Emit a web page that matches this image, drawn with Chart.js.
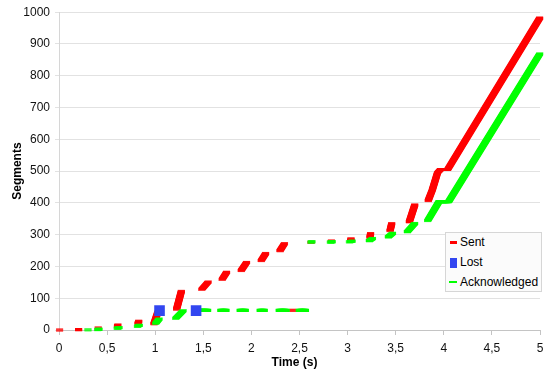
<!DOCTYPE html>
<html><head><meta charset="utf-8">
<script src="https://cdn.jsdelivr.net/npm/chart.js@4.4.1/dist/chart.umd.min.js"></script>
<style>
html,body{margin:0;padding:0;background:#fff;}
#wrap{position:relative;width:550px;height:379px;}
#legend{position:absolute;left:445px;top:232px;width:95px;height:58px;border:1px solid #d6d6d6;background:#fbfbfb;font:12px "Liberation Sans",Arial,sans-serif;color:#000;}
.item{position:absolute;left:0;height:20px;line-height:20px;white-space:nowrap;}
.mk{position:absolute;left:4px;}
.lbl{position:absolute;left:14px;top:0;}
</style></head>
<body><div id="wrap"><canvas id="c" width="550" height="379"></canvas><div id="legend"></div></div>
<script>
const seriesNames = ['Sent', 'Lost', 'Acknowledged'];
const seriesColors = ['#ff0000', '#3246f0', '#00ff00'];

// one pair of points per burst; null marks the pause between bursts
const sentTime = [0, 0.012, null, 0.198, 0.204, null, 0.405, 0.41, null, 0.605, 0.615, null,
  0.818, 0.832, null, 0.985, 1.03, null, 1.221, 1.273, null, 1.481, 1.554, null,
  1.693, 1.745, null, 1.891, 1.953, null, 2.099, 2.151, null, 2.294, 2.346, null,
  2.425, 2.437, null, 2.615, 2.625, null, 2.825, 2.835, null, 3.025, 3.035, null,
  3.232, 3.24, null, 3.44, 3.46, null, 3.64, 3.70, null,
  3.836, 3.88, 3.935, 3.965, 4.04, 5.0];
const sentSegments = [0, 0, null, 1, 3, null, 5, 8, null, 11, 17, null,
  20, 29, null, 18, 58, null, 64, 123, null, 127, 152, null,
  158, 183, null, 186, 214, null, 217, 242, null, 248, 273, null,
  62, 62, null, 275, 277, null, 278, 281, null, 282, 289, null,
  290, 305, null, 311, 336, null, 339, 395, null,
  406, 440, 495, 505, 505, 983];

const ackTime = [0.296, 0.306, null, 0.398, 0.422, null, 0.6, 0.63, null, 0.81, 0.84, null,
  1.002, 1.044, null, 1.21, 1.294, null, 1.416, 1.551, null, 1.676, 1.742, null,
  1.877, 1.943, null, 2.085, 2.14, null, 2.283, 2.367, null, 2.492, 2.568, null,
  2.614, 2.635, null, 2.815, 2.846, null, 3.013, 3.054, null, 3.221, 3.263, null,
  3.419, 3.471, null, 3.617, 3.701, null, 3.83, 3.95, 4.05, 5.0];
const ackSegments = [0, 1, null, 1, 3, null, 5, 8, null, 11, 16, null,
  20, 36, null, 36, 62, null, 62, 62, null, 62, 62, null,
  62, 62, null, 62, 62, null, 62, 62, null, 62, 62, null,
  276, 278, null, 276, 278, null, 277, 280, null, 280, 289, null,
  292, 305, null, 308, 336, null, 343, 404, 404, 870];

const lostTime = [1.045, 1.425];
const lostSegments = [61, 61];

const xTickLabels = ['0', '0,5', '1', '1,5', '2', '2,5', '3', '3,5', '4', '4,5', '5'];
const yTickLabels = ['0', '100', '200', '300', '400', '500', '600', '700', '800', '900', '1000'];

function buildPoints(times, values) {
  const pts = [];
  let last = 0;
  for (let i = 0; i < times.length; i++) {
    if (values[i] === null || times[i] === null) pts.push({x: last, y: null});
    else { pts.push({x: times[i], y: values[i]}); last = times[i]; }
  }
  return pts;
}

// The traces are drawn with a small horizontal dash marker (about 7 x 3 px):
// the library's line is stroked repeatedly with small offsets so that it looks
// like that marker swept along each burst.
const MARK_HALF_W = 3, MARK_HALF_H = 1;
const sweepPlugin = {
  id: 'markerSweep',
  beforeDatasetDraw(chart, args) {
    const ds = chart.data.datasets[args.index];
    if (!ds.sweep) return;
    const ctx = chart.ctx, a = chart.chartArea;
    ctx.save();
    ctx.beginPath();
    ctx.rect(a.left - 6, a.top - 6, a.right - a.left + 12, a.bottom - a.top + 12);
    ctx.clip();
    for (let dx = -MARK_HALF_W; dx <= MARK_HALF_W; dx++) {
      for (let dy = -MARK_HALF_H; dy <= MARK_HALF_H; dy++) {
        ctx.save();
        ctx.translate(dx, dy);
        args.meta.controller.draw();
        ctx.restore();
      }
    }
    ctx.restore();
    return false;
  }
};

const tickFont = {family: '"Liberation Sans", Arial, sans-serif', size: 12};
const titleFont = {family: '"Liberation Sans", Arial, sans-serif', size: 12, weight: 'bold'};

new Chart(document.getElementById('c'), {
  type: 'scatter',
  plugins: [sweepPlugin],
  data: {
    datasets: [
      {label: seriesNames[0], data: buildPoints(sentTime, sentSegments), showLine: true, sweep: true,
        borderColor: seriesColors[0], backgroundColor: seriesColors[0], borderWidth: 1.2,
        pointRadius: 0, spanGaps: false, borderCapStyle: 'butt', order: 3},
      {label: seriesNames[1], data: buildPoints(lostTime, lostSegments), showLine: false,
        pointStyle: 'rect', pointRadius: 7.5, backgroundColor: seriesColors[1], borderWidth: 0, order: 1},
      {label: seriesNames[2], data: buildPoints(ackTime, ackSegments), showLine: true, sweep: true,
        borderColor: seriesColors[2], backgroundColor: seriesColors[2], borderWidth: 1.2,
        pointRadius: 0, spanGaps: false, borderCapStyle: 'butt', order: 2}
    ]
  },
  options: {
    responsive: false, animation: false, events: [],
    layout: {padding: {top: 10, right: 10, left: 0, bottom: 0}},
    plugins: {legend: {display: false}, tooltip: {enabled: false}},
    scales: {
      x: {type: 'linear', min: 0, max: 5,
        ticks: {stepSize: 0.5, autoSkip: false, maxRotation: 0, font: tickFont, color: '#111', padding: 6,
          callback: (v, i) => xTickLabels[i]},
        grid: {drawOnChartArea: false, tickLength: 5, color: '#c4c4c4'},
        border: {color: '#c4c4c4'},
        title: {display: true, text: 'Time (s)   ', font: titleFont, color: '#000', padding: {top: 0, bottom: 8.8}},
        afterFit: s => { s.height = 49; }},
      y: {type: 'linear', min: 0, max: 1000,
        ticks: {stepSize: 100, font: tickFont, color: '#111', padding: 5,
          callback: (v, i) => yTickLabels[i]},
        grid: {color: '#e2e2e2', tickLength: 4},
        border: {color: '#d6d6d6'},
        title: {display: true, text: 'Segments', font: titleFont, color: '#000', padding: {top: 10, bottom: 0}},
        afterFit: s => { s.width = 59; }}
    }
  }
});

// legend
const legend = document.getElementById('legend');
const rowTops = [-0.7, 18.7, 38.7];
const markers = [{w: 7, h: 2.5, t: 8.8}, {w: 7, h: 10, t: 6}, {w: 8, h: 2.5, t: 9.2}];
seriesNames.forEach((name, i) => {
  const row = document.createElement('div');
  row.className = 'item';
  row.style.top = rowTops[i] + 'px';
  const mk = document.createElement('span');
  mk.className = 'mk';
  const m = markers[i];
  mk.style.cssText = `width:${m.w}px;height:${m.h}px;top:${m.t}px;background:${seriesColors[i]};left:${i === 2 ? 3.3 : 4}px`;
  const lbl = document.createElement('span');
  lbl.className = 'lbl';
  lbl.textContent = name;
  row.appendChild(mk);
  row.appendChild(lbl);
  legend.appendChild(row);
});
</script>
</body></html>
